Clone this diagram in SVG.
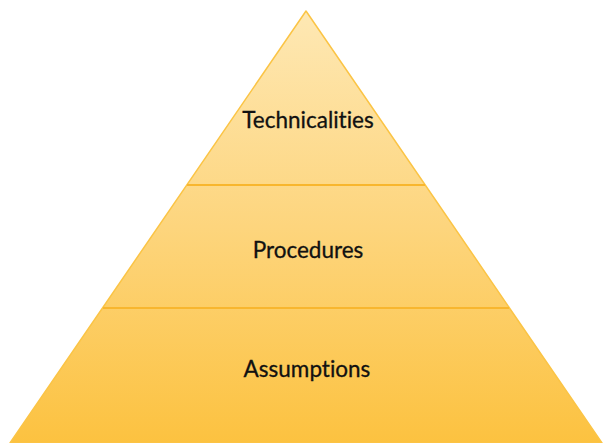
<svg xmlns="http://www.w3.org/2000/svg" width="604" height="443" viewBox="0 0 604 443">
  <defs>
    <linearGradient id="fillGrad" x1="0" y1="11" x2="0" y2="443" gradientUnits="userSpaceOnUse">
      <stop offset="0" stop-color="#fee8b4"/>
      <stop offset="0.5" stop-color="#fdd57d"/>
      <stop offset="1" stop-color="#fcc240"/>
    </linearGradient>
  </defs>
  <style>
    .tier { fill: url(#fillGrad); stroke: #fbc445; stroke-width: 1.5; stroke-linejoin: round; }
    .divider { stroke: #f8b62e; stroke-width: 2; fill: none; }
    .label { font-family: Lato, "Open Sans", "Liberation Sans", sans-serif; font-size: 22.5px; fill: #111; stroke: #111; stroke-width: 0.3; text-anchor: middle; font-variant-ligatures: none; }
  </style>
  <rect width="604" height="443" fill="#ffffff"/>
  <g id="pyramid">
    <polygon class="tier" points="306,11 602,443 10,443"/>
  </g>
  <g id="dividers">
    <line class="divider" x1="187" y1="185" x2="425" y2="185"/>
    <line class="divider" x1="103" y1="308" x2="509" y2="308"/>
  </g>
  <g id="technicalities">
    <text class="label" x="308" y="128">Technicalities</text>
  </g>
  <g id="procedures">
    <text class="label" x="308" y="258">Procedures</text>
  </g>
  <g id="assumptions">
    <text class="label" x="307" y="377">Assumptions</text>
  </g>
</svg>
